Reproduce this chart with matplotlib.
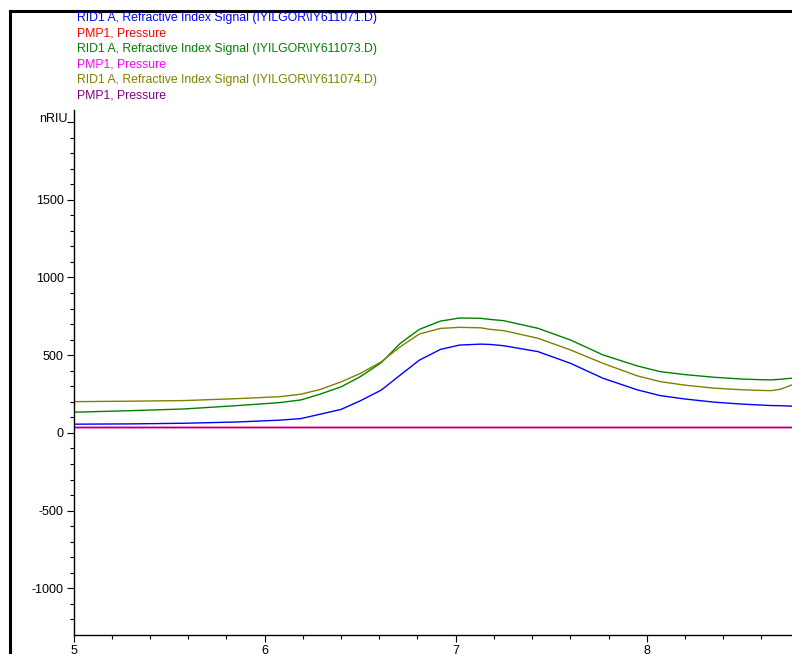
import numpy as np
import matplotlib as mpl
import matplotlib.pyplot as plt
from matplotlib.lines import Line2D

mpl.rcParams['font.family'] = ['Liberation Sans', 'DejaVu Sans']

# retention time (min)
x_rid = [5.0, 5.3, 5.58, 5.85, 6.08, 6.19, 6.29, 6.40, 6.50, 6.61, 6.71, 6.81, 6.92,
         7.02, 7.13, 7.18, 7.25, 7.43, 7.6, 7.77, 7.95, 8.07, 8.2, 8.35, 8.49, 8.6,
         8.65, 8.70, 8.76]
rid_071 = [56, 58, 62, 70, 82, 92, 120, 151, 206, 275, 372, 468, 537,
           565, 571, 569, 561, 523, 448, 352, 277, 240, 218, 198, 186, 179,
           176, 175, 172]
rid_073 = [133, 143, 154, 175, 195, 212, 249, 296, 361, 451, 576, 666, 719,
           739, 737, 730, 722, 673, 598, 502, 431, 394, 375, 358, 347, 342,
           341, 345, 352]
rid_074 = [201, 204, 208, 220, 233, 249, 279, 328, 382, 457, 554, 636, 672,
           679, 676, 666, 658, 609, 534, 448, 367, 330, 307, 288, 278, 273,
           272, 281, 309]
x_pmp = [5.0, 8.76]
pmp_071 = [40, 40]
pmp_073 = [40, 40]
pmp_074 = [40, 40]

legend = ['RID1 A, Refractive Index Signal (IYILGOR\\IY611071.D)',
          'PMP1, Pressure',
          'RID1 A, Refractive Index Signal (IYILGOR\\IY611073.D)',
          'PMP1, Pressure',
          'RID1 A, Refractive Index Signal (IYILGOR\\IY611074.D)',
          'PMP1, Pressure']
colors = ['#0000ff', '#ff0000', '#008000', '#ff00ff', '#808000', '#800080']

fig = plt.figure(figsize=(7.92, 6.54), dpi=100)
ax = fig.add_axes([73.5/792, 1-635/654, 1-73.5/792, (635-110)/654])

ax.plot(x_rid, rid_071, color=colors[0], lw=1.0)
ax.plot(x_pmp, pmp_071, color=colors[1], lw=1.0)
ax.plot(x_rid, rid_073, color=colors[2], lw=1.0)
ax.plot(x_pmp, pmp_073, color=colors[3], lw=1.0)
ax.plot(x_rid, rid_074, color=colors[4], lw=1.0)
ax.plot(x_pmp, pmp_074, color=colors[5], lw=1.0, alpha=0.8)

ax.set_xlim(5, 8.76)
ax.set_ylim(-1300, 2077)
ax.spines['top'].set_visible(False)
ax.spines['right'].set_visible(False)
ax.spines['left'].set_linewidth(1.0)
ax.spines['bottom'].set_linewidth(1.0)

ax.set_xticks([5, 6, 7, 8])
ax.set_xticks(np.arange(5, 8.76, 0.2), minor=True)
ax.set_yticks([-1000, -500, 0, 500, 1000, 1500, 2000])
ax.set_yticklabels(['-1000', '-500', '0', '500', '1000', '1500', ''])
ax.set_yticks(np.arange(-1200, 2001, 100), minor=True)
ax.tick_params(which='major', length=5, width=0.8, labelsize=9, pad=2)
ax.tick_params(which='minor', length=3, width=0.8)
ax.text(-0.008, 2000, 'nRIU', transform=ax.get_yaxis_transform(),
        ha='right', va='baseline', fontsize=9)

for i, (t, c) in enumerate(zip(legend, colors)):
    fig.text(77/792, 1 - (18 + i*15.4)/654, t, color=c, fontsize=8.8, va='center')

# outer frame of the report page
fig.add_artist(Line2D([10/792, 10/792], [0, 1-11/654], color='black', lw=2.2))
fig.add_artist(Line2D([10/792, 1], [1-11/654, 1-11/654], color='black', lw=2.2))

fig.savefig('out.png', dpi=100)
